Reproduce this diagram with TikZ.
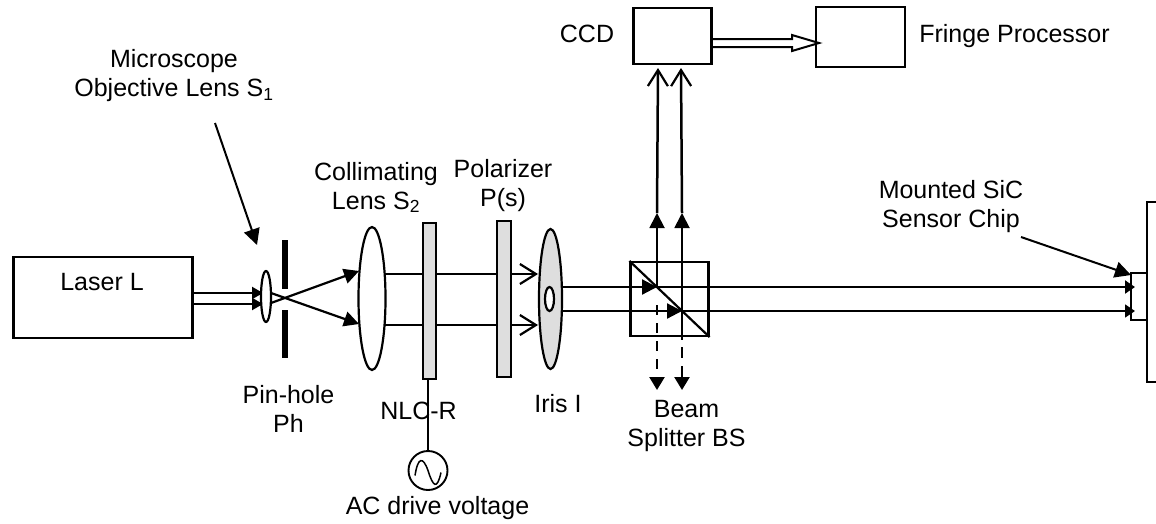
\documentclass[tikz,border=0pt]{standalone}
\usepackage{fontspec}
\setmainfont{Liberation Sans}
\usetikzlibrary{arrows.meta,calc,shapes.geometric}
\tikzset{
  box/.style={draw,line width=2.4pt,fill=white,inner sep=0pt,rectangle},
  thinbox/.style={box,line width=1.9pt},
  plate/.style={box,fill=black!13,line width=2.2pt},
  lens/.style={draw,line width=2.2pt,fill=white,ellipse,inner sep=0pt},
  lbl/.style={align=center,inner sep=0pt,font=\fontsize{25}{29}\selectfont},
  beam/.style={line width=2.2pt},
  solidtip/.style={-{Triangle[length=15pt,width=15pt]}},
  smalltip/.style={-{Triangle[length=11pt,width=12pt]}},
  walltip/.style={-{Triangle[length=10pt,width=13pt]}},
  barbtip/.style={-{Straight Barb[length=16pt,width=20pt,line width=2.2pt]}},
  leader/.style={line width=2pt,-{Triangle[length=16pt,width=16pt]}},
  pinbar/.style={fill=black,inner sep=0pt,rectangle,minimum width=5.5pt}
}
\begin{document}
\begin{tikzpicture}[x=1pt,y=-1pt]
\useasboundingbox (0,0) rectangle (1156,523);
% boxes
\node[box,minimum width=179pt,minimum height=81pt] (laser) at (103,297.5) {};
\node[box,minimum width=78pt,minimum height=56pt] (ccd) at (672.5,36) {};
\node[thinbox,minimum width=89pt,minimum height=60pt] (fringe) at (860.5,37) {};
\node[box,line width=2.2pt,minimum width=78pt,minimum height=74pt] (bs) at (669.5,299) {};
\node[thinbox,minimum width=40pt,minimum height=180pt] (wall) at (1167,292) {};
\node[thinbox,minimum width=16pt,minimum height=47pt] (chip) at (1139,296.5) {};
\draw[line width=2.2pt] (bs.north west) -- (bs.south east);
% coordinates
\coordinate (la) at (193,293); \coordinate (lb) at (193,304);
\coordinate (sa) at (263,293); \coordinate (sb) at (263,304);
\coordinate (xa) at (271,303); \coordinate (xb) at (271,293);
\coordinate (ca) at (359,271); \coordinate (cb) at (359,324);
\coordinate (oa) at (385,274); \coordinate (ob) at (385,325);
\coordinate (pa) at (538,274); \coordinate (pb) at (538,325);
\coordinate (ia) at (562,287); \coordinate (ib) at (562,311);
\coordinate (ha) at (657,287); \coordinate (hb) at (682,311);
\coordinate (ra) at (1135,287); \coordinate (rb) at (1135,311);
\coordinate (ua) at (658,68); \coordinate (ub) at (681,68);
\coordinate (ma) at (657,213); \coordinate (mb) at (682,213);
\coordinate (dsa) at (657,305); \coordinate (dsb) at (682,311);
\coordinate (da) at (657,390); \coordinate (db) at (682,390);
\coordinate (aa) at (712,43); \coordinate (ab) at (819,43);
\coordinate (mo) at (215,123); \coordinate (mt) at (257,245);
\coordinate (so) at (1021,237); \coordinate (st) at (1131,275);
% beams
\draw[beam,smalltip] (la) -- (sa);
\draw[beam,smalltip] (lb) -- (sb);
\draw[beam,solidtip] (xa) -- (ca);
\draw[beam,solidtip] (xb) -- (cb);
\draw[beam,barbtip] (oa) -- (pa);
\draw[beam,barbtip] (ob) -- (pb);
\draw[beam,solidtip] (ia) -- (ha);
\draw[beam,solidtip] (ib) -- (hb);
\draw[line width=2pt,walltip] (ha) -- (ra);
\draw[line width=1.7pt,walltip] (hb) -- (rb);
\draw[line width=1.9pt,solidtip] (ha) -- (ma);
\draw[line width=1.9pt,solidtip] (hb) -- (mb);
\draw[line width=2.5pt,-{Straight Barb[length=16pt,width=20pt,line width=2.2pt]}] (ma) -- (ua);
\draw[line width=2.5pt,-{Straight Barb[length=16pt,width=20pt,line width=2.2pt]}] (mb) -- (ub);
\draw[line width=2.4pt,dash pattern=on 10pt off 8pt,-{Triangle[length=13pt,width=15pt]}] (dsa) -- (da);
\draw[line width=2.4pt,dash pattern=on 29pt off 7pt on 11pt off 8pt on 11pt off 8pt,-{Triangle[length=13pt,width=15pt]}] (dsb) -- (db);
% optics
\node[lens,minimum width=10pt,minimum height=51pt] (obj) at (266,296.5) {};
\node[pinbar,minimum height=49pt] (pup) at (285,264.5) {};
\node[pinbar,minimum height=48pt] (pdn) at (285,334) {};
\node[lens,minimum width=27pt,minimum height=143pt] (coll) at (372,298.5) {};
\node[plate,minimum width=13pt,minimum height=156pt] (nlc) at (429.5,301) {};
\node[plate,minimum width=14pt,minimum height=156pt] (pol) at (504,299) {};
\node[lens,fill=black!13,minimum width=23pt,minimum height=140pt] (iris) at (550.5,299) {};
\node[lens,minimum width=9pt,minimum height=24pt] (hole) at (549.5,299) {};
% AC source
\node[draw,circle,line width=1.9pt,minimum size=39pt,inner sep=0pt] (ac) at (428,470.5) {};
\draw[line width=2pt] (nlc.south -| ac.north) -- (ac.north);
\draw[line width=1.5pt] ($(ac.center)+(-13,5)$) .. controls ($(ac.center)+(-10,-14)$) and ($(ac.center)+(-5,-14)$) .. (ac.center) .. controls ($(ac.center)+(5,16)$) and ($(ac.center)+(9,20)$) .. ($(ac.center)+(13,2)$);
% hollow arrow
\draw[line width=2pt] ($(aa)+(0,-4)$) -- ($(ab)+(-27,-4)$) -- ($(ab)+(-27,-8)$) -- (ab) -- ($(ab)+(-27,8)$) -- ($(ab)+(-27,4)$) -- ($(aa)+(0,4)$);
% leaders
\draw[leader] (mo) -- (mt);
\draw[leader] (so) -- (st);
% labels
\node[lbl] (tlaser) at (102,282) {Laser L};
\node[lbl] (tmicro) at (174,75.5) {Microscope\\Objective Lens S\textsubscript{1}};
\node[lbl] (tcoll) at (376,187.5) {Collimating\\Lens S\textsubscript{2}};
\node[lbl] (tpol) at (503,186) {Polarizer\\P(s)};
\node[lbl] (tpin) at (288.5,409) {Pin-hole\\Ph};
\node[lbl] (tnlc) at (418.5,411) {NLC-R};
\node[lbl] (tiris) at (558,404) {Iris I};
\node[lbl] (tbs) at (686.5,426) {Beam\\Splitter BS};
\node[lbl] (tac) at (437.5,508) {AC drive voltage};
\node[lbl] (tccd) at (587,34) {CCD};
\node[lbl] (tfp) at (1014.5,36) {Fringe Processor};
\node[lbl] (tchip) at (951,207) {Mounted SiC\\Sensor Chip};
\end{tikzpicture}
\end{document}
